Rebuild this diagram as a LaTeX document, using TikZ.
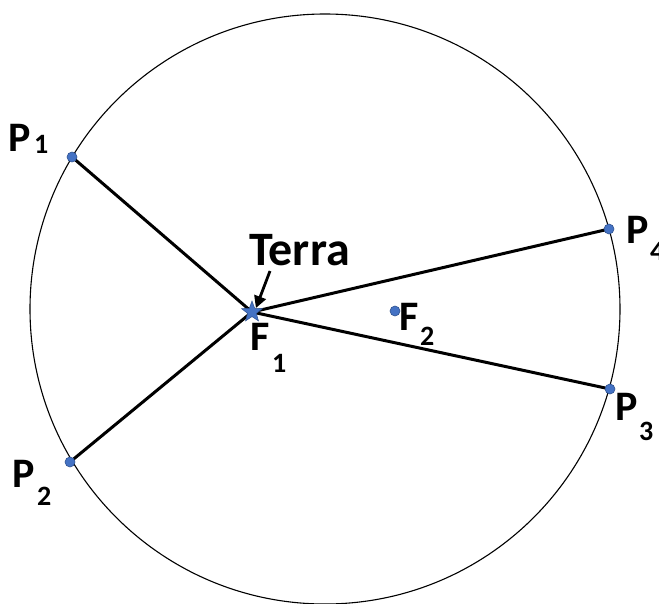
\documentclass[tikz,border=0pt]{standalone}
\usepackage{fontspec}
\setmainfont{Carlito}
\usetikzlibrary{shapes.geometric,arrows.meta}
\definecolor{dotblue}{HTML}{4472C4}
\definecolor{dotedge}{HTML}{2F528F}
\begin{document}
\begin{tikzpicture}[x=1pt,y=-1pt,
  pdot/.style={circle,fill=dotblue,draw=dotedge,line width=0.6pt,minimum size=10pt,inner sep=0pt},
  fstar/.style={star,star points=5,star point ratio=2.4,fill=dotblue,draw=dotedge,line width=0.5pt,minimum size=22pt,inner sep=0pt},
  ray/.style={line width=3pt},
  big/.style={anchor=base west,inner sep=0pt,font=\fontsize{42}{42}\selectfont\bfseries},
  terra/.style={anchor=base west,inner sep=0pt,font=\fontsize{48}{48}\selectfont\bfseries},
  sub/.style={anchor=base west,inner sep=0pt,font=\fontsize{28}{28}\selectfont\bfseries}]
\useasboundingbox (0,0) rectangle (659,603);
\node[draw,circle,line width=1.1pt,minimum size=590pt,inner sep=0pt] (orbit) at (325,309) {};
\coordinate (f1) at (252,312);
\coordinate (p1) at (72,157);
\coordinate (p2) at (70,462);
\coordinate (p3) at (610,389);
\coordinate (p4) at (609,229);
\draw[ray] (f1) -- (p1);
\draw[ray] (f1) -- (p2);
\draw[ray] (f1) -- (p3);
\draw[ray] (f1) -- (p4);
\node[pdot] (d1) at (p1) {};
\node[pdot] (d2) at (p2) {};
\node[pdot] (d3) at (p3) {};
\node[pdot] (d4) at (p4) {};
\node[pdot] (df2) at (395,311) {};
\node[fstar] (sf1) at (f1) {};
% labels
\node[big] (lp1) at (8,151) {P};
\node[sub] (sp1) at (34,153) {1};
\node[big] (lp2) at (12,487) {P};
\node[sub] (sp2) at (37,505) {2};
\node[big] (lp3) at (615,420) {P};
\node[sub] (sp3) at (639,440) {3};
\node[big] (lp4) at (626,243) {P};
\node[sub] (sp4) at (650,260) {4};
\node[big] (lf1) at (250,350) {F};
\node[sub] (sf1l) at (272,372) {1};
\node[big] (lf2) at (399,330) {F};
\node[sub] (sf2l) at (420,345) {2};
\node[terra] (terra) at (249,265) {Terra};
\coordinate (a0) at (270,271);
\draw[line width=2.8pt,-{Triangle[length=12pt,width=12pt]}] (a0) -- (sf1.north east);
\end{tikzpicture}
\end{document}
